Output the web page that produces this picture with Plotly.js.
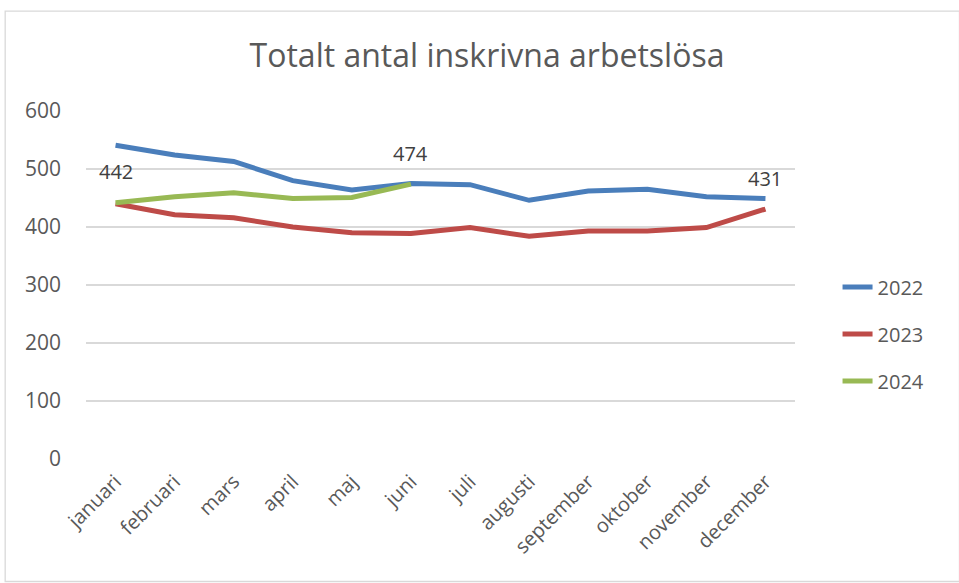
<!DOCTYPE html>
<html><head><meta charset="utf-8">
<script src="https://cdn.plot.ly/plotly-3.0.1.min.js"></script>
<style>html,body{margin:0;padding:0;background:#fff}#c{width:959px;height:583px}</style>
</head><body><div id="c"></div>
<script>
const months = ["januari","februari","mars","april","maj","juni","juli","augusti","september","oktober","november","december"];
const v2022 = [541, 524, 513, 480, 464, 475, 473, 446, 462, 465, 452, 449];
const v2023 = [440, 421, 416, 400, 390, 389, 399, 384, 393, 393, 399, 431];
const v2024 = [442, 452, 459, 449, 451, 474];
const seriesNames = ["2022","2023","2024"];
const seriesColors = ["#4a7ebb","#be4b48","#98b954"];
const labels = [
  {series: 2, idx: 0},
  {series: 2, idx: 5},
  {series: 1, idx: 11}
];
const allVals = [v2022, v2023, v2024];
const font = "'Open Sans', Lato, sans-serif";
const txt = "#595959";

const traces = allVals.map((vals, i) => ({
  type: "scatter", mode: "lines",
  x: months.slice(0, vals.length), y: vals,
  name: seriesNames[i], legendgroup: "g" + i,
  line: {color: seriesColors[i], width: 5}
}));

const annotations = labels.map(l => ({
  x: months[l.idx], y: allVals[l.series][l.idx],
  xref: "x", yref: "y", text: String(allVals[l.series][l.idx]),
  showarrow: false, yshift: 31, font: {family: font, size: 20, color: "#404040"}
}));

const layout = {
  width: 959, height: 583,
  margin: {l: 86, r: 164, t: 111, b: 124},
  paper_bgcolor: "#fff", plot_bgcolor: "#fff",
  title: {text: "Totalt antal inskrivna arbetslösa", x: 0.5656, xref: "paper", xanchor: "center",
          y: 0.905, yref: "container", yanchor: "middle",
          font: {family: font, size: 32, color: txt}},
  xaxis: {type: "category", range: [-0.5, 11.5], tickangle: -45, showgrid: false, showline: false,
          ticks: "", ticklabelstandoff: 6, tickfont: {family: font, size: 20, color: txt}, zeroline: false},
  yaxis: {range: [0, 600], dtick: 100, showgrid: true, gridcolor: "#d9d9d9", gridwidth: 1.3,
          zeroline: false, showline: false, ticks: "", ticklabelstandoff: 24,
          tickfont: {family: font, size: 21, color: txt}},
  legend: {x: 1.06, xanchor: "left", y: 0.359, yanchor: "middle", traceorder: "grouped",
           tracegroupgap: 18, font: {family: font, size: 20, color: txt}, bgcolor: "rgba(0,0,0,0)"},
  shapes: [{type: "rect", xref: "paper", yref: "paper", x0: -0.114, x1: 1.232, y0: -0.352, y1: 1.287,
            line: {color: "#d9d9d9", width: 1.3}, fillcolor: "rgba(0,0,0,0)", layer: "below"}],
  annotations: annotations,
  showlegend: true
};
Plotly.newPlot("c", traces, layout, {displayModeBar: false, staticPlot: true});
</script></body></html>
